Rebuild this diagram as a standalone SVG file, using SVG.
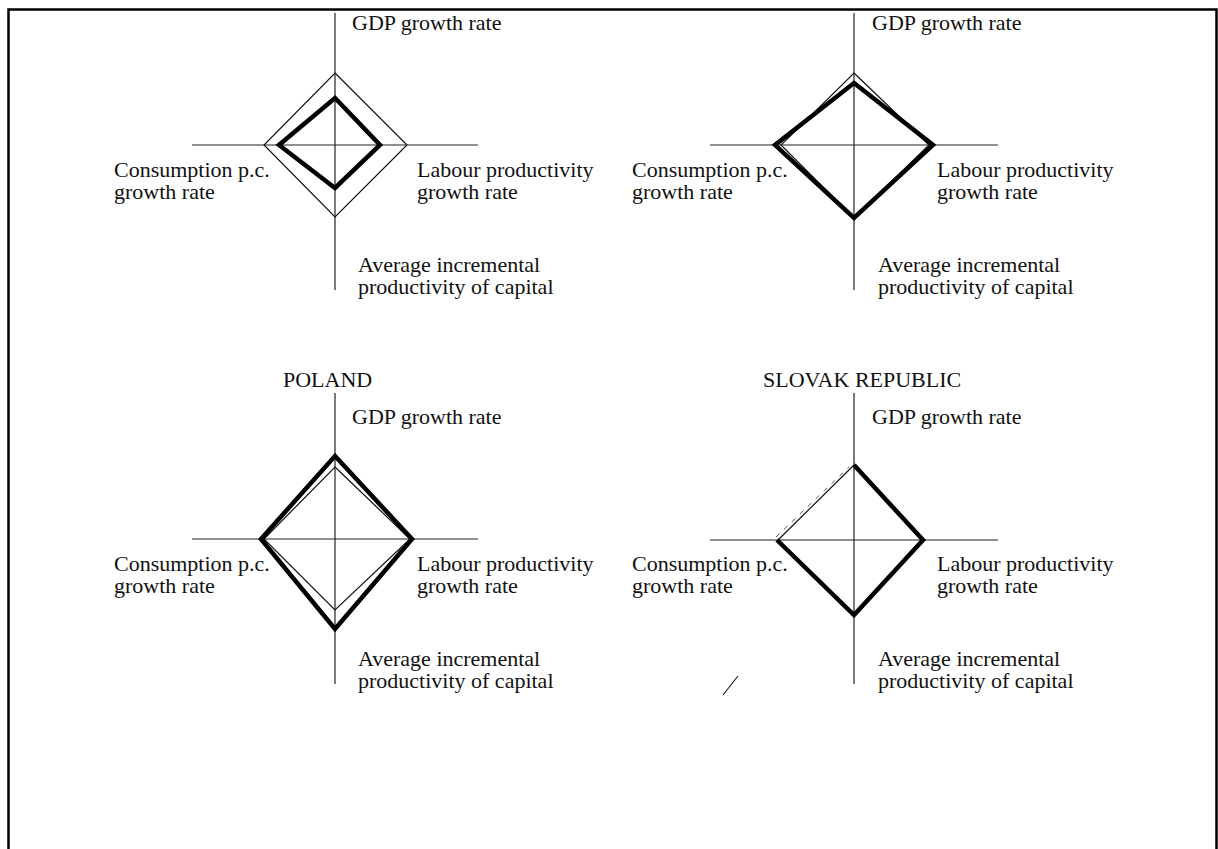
<svg xmlns="http://www.w3.org/2000/svg" width="1218" height="849" viewBox="0 0 1218 849">
<style>
text{font-family:"Liberation Serif","Times New Roman",serif;font-size:22px;fill:#111}
.ax{stroke:#222;stroke-width:1.2;fill:none}
.thin{stroke:#111;stroke-width:1.2;fill:none;stroke-linejoin:miter}
.thick{stroke:#000;stroke-width:4.5;fill:none;stroke-linejoin:miter}
</style>
<rect width="1218" height="849" fill="#fff"/>
<path d="M8.5,849 V9.5 H1216.5 V849" fill="none" stroke="#000" stroke-width="2.5"/>

<g id="chart-top-left">
<line class="ax" x1="335" y1="13" x2="335" y2="290"/>
<line class="ax" x1="192" y1="145" x2="478" y2="145"/>
<polygon class="thin" points="335,73 407,145 335,217 264,145"/>
<polygon class="thick" points="335,98 380,145 335,188 279,145"/>
<text x="352" y="30">GDP growth rate</text>
<text x="417" y="177">Labour productivity</text>
<text x="417" y="199">growth rate</text>
<text x="114" y="177">Consumption p.c.</text>
<text x="114" y="199">growth rate</text>
<text x="358" y="272">Average incremental</text>
<text x="358" y="294">productivity of capital</text>
</g>

<g id="chart-top-right">
<line class="ax" x1="854" y1="13" x2="854" y2="290"/>
<line class="ax" x1="710" y1="145" x2="998" y2="145"/>
<polygon class="thin" points="854,73 929,145 854,218 781,145"/>
<polygon class="thick" points="854,83 933,145 854,218 775,145"/>
<text x="872" y="30">GDP growth rate</text>
<text x="937" y="177">Labour productivity</text>
<text x="937" y="199">growth rate</text>
<text x="632" y="177">Consumption p.c.</text>
<text x="632" y="199">growth rate</text>
<text x="878" y="272">Average incremental</text>
<text x="878" y="294">productivity of capital</text>
</g>

<g id="chart-poland">
<text x="283" y="387">POLAND</text>
<line class="ax" x1="335" y1="393" x2="335" y2="684"/>
<line class="ax" x1="192" y1="539" x2="478" y2="539"/>
<polygon class="thin" points="335,467 410,539 335,610 264,539"/>
<polygon class="thick" points="335,456 412,539 335,629 261,539"/>
<text x="352" y="424">GDP growth rate</text>
<text x="417" y="571">Labour productivity</text>
<text x="417" y="593">growth rate</text>
<text x="114" y="571">Consumption p.c.</text>
<text x="114" y="593">growth rate</text>
<text x="358" y="666">Average incremental</text>
<text x="358" y="688">productivity of capital</text>
</g>

<g id="chart-slovak-republic">
<text x="763" y="387">SLOVAK REPUBLIC</text>
<line class="ax" x1="854" y1="393" x2="854" y2="684"/>
<line class="ax" x1="710" y1="540" x2="998" y2="540"/>
<line class="thin" x1="778" y1="540" x2="854" y2="465"/>
<line x1="776" y1="537" x2="849" y2="467" stroke="#555" stroke-width="1" stroke-dasharray="5,6"/>
<polyline class="thick" points="854,465 923,540 854,615 777,540"/>
<text x="872" y="424">GDP growth rate</text>
<text x="937" y="571">Labour productivity</text>
<text x="937" y="593">growth rate</text>
<text x="632" y="571">Consumption p.c.</text>
<text x="632" y="593">growth rate</text>
<text x="878" y="666">Average incremental</text>
<text x="878" y="688">productivity of capital</text>
</g>

<g id="connectors">
<line x1="723" y1="695" x2="738" y2="676" stroke="#222" stroke-width="1.2"/>
</g>
</svg>
